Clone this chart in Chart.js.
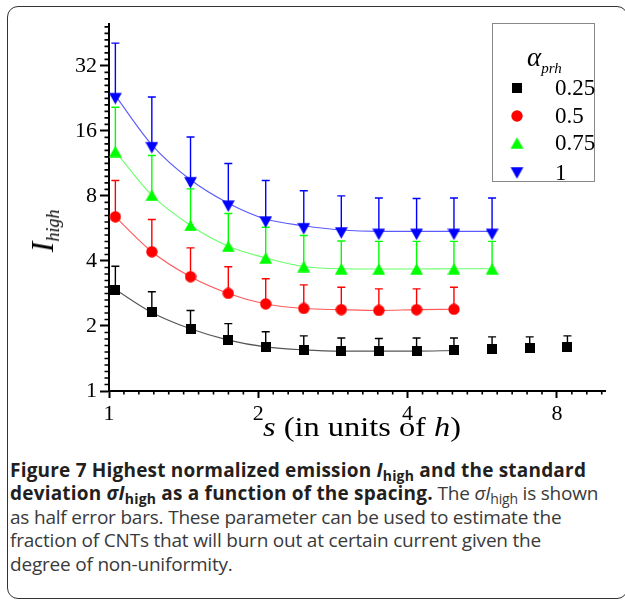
<!DOCTYPE html>
<html>
<head>
<meta charset="utf-8">
<script src="https://cdn.jsdelivr.net/npm/chart.js@4.4.0/dist/chart.umd.min.js"></script>
<style>
  body { margin: 0; width: 625px; height: 602px; overflow: hidden; background: #fff; position: relative; }
  #frame { position: absolute; left: 7px; top: 6px; width: 621px; height: 593px; border: 1.5px solid #333; border-radius: 11px; box-sizing: border-box; }
  #wrap { position: absolute; left: 0; top: 0; width: 625px; height: 440px; }
  .serif { font-family: "Liberation Serif", "DejaVu Serif", serif; color: #000; }
  #ytitle { position: absolute; left: 44px; top: 231px; transform: translate(-50%, -50%) rotate(-90deg); white-space: nowrap; font-style: italic; font-size: 32px; line-height: 1; }
  #ytitle sub { font-size: 18px; vertical-align: -6px; }
  #xtitle { position: absolute; left: 362px; top: 414px; transform: translateX(-50%) scaleX(1.2); white-space: nowrap; font-size: 27px; line-height: 1; }
  #legend { position: absolute; left: 492px; top: 23px; width: 103px; height: 159px; border: 1px solid #888; box-sizing: border-box; }
  #legend .ttl { position: absolute; left: 34px; top: 20px; font-style: italic; font-size: 27px; line-height: 1; white-space: nowrap; }
  #legend .ttl sub { font-size: 15px; vertical-align: -7px; }
  #legend .row { position: absolute; left: 0; width: 100px; height: 28px; }
  #legend .row img { position: absolute; left: 24px; top: 50%; transform: translate(-50%, -50%); }
  #legend .row span { position: absolute; left: 62px; top: 50%; transform: translateY(-52%); font-size: 23px; line-height: 1; }
  #caption { position: absolute; left: 10px; top: 459px; width: 592px; font-family: "Open Sans", "Noto Sans", sans-serif; font-size: 19px; line-height: 23.4px; color: #3a3a3a; letter-spacing: -0.2px; }
  #caption b { color: #231f20; letter-spacing: 0.2px; }
  #caption sub { font-size: 14px; vertical-align: -4px; line-height: 0; }
</style>
</head>
<body>
<div id="frame"></div>
<div id="wrap"><canvas id="chart"></canvas></div>
<div id="ytitle" class="serif">I<sub>high</sub></div>
<div id="xtitle" class="serif"><i>s</i> (in units of <i>h</i>)</div>
<div id="legend" class="serif">
  <div class="ttl">&alpha;<sub>prh</sub></div>
</div>
<div id="caption"><b>Figure 7 Highest normalized emission <i>I</i><sub>high</sub> and the standard deviation <i>&sigma;I</i><sub>high</sub> as a function of the spacing.</b> The <i>&sigma;I</i><sub>high</sub> is shown as half error bars. These parameter can be used to estimate the fraction of CNTs that will burn out at certain current given the degree of non-uniformity.</div>

<script>
// spacing s (in units of h)
var spacing = [1.03, 1.22, 1.46, 1.74, 2.07, 2.47, 2.94, 3.5, 4.17, 4.96, 5.92, 7.05, 8.4];

// I_high for each alpha_prh
var iHigh025 = [2.95, 2.31, 1.94, 1.72, 1.6, 1.55, 1.53, 1.53, 1.53, 1.54, 1.56, 1.58, 1.59];
var iHigh05 = [6.4, 4.41, 3.38, 2.83, 2.53, 2.41, 2.38, 2.36, 2.38, 2.39];
var iHigh075 = [12.84, 8.06, 5.84, 4.68, 4.13, 3.77, 3.68, 3.67, 3.67, 3.68, 3.68];
var iHigh1 = [23.3, 13.8, 9.5, 7.4, 6.25, 5.82, 5.56, 5.48, 5.48, 5.48, 5.48];

// standard deviation (half error bars, upward)
var sd025 = [0.83, 0.57, 0.42, 0.33, 0.28, 0.25, 0.23, 0.22, 0.23, 0.22, 0.22, 0.2, 0.21];
var sd05 = [3.03, 1.81, 1.22, 0.93, 0.78, 0.69, 0.64, 0.61, 0.59, 0.63];
var sd075 = [7.76, 4.24, 2.78, 1.95, 1.6, 1.48, 1.27, 1.26, 1.26, 1.25, 1.25];
var sd1 = [17.5, 9.16, 5.5, 3.9, 3.18, 2.63, 2.44, 2.35, 2.3, 2.35, 2.35];

// how many points the fitted curve runs through
var fitCount = [10, 10, 11, 11];

var alphaLabels = ['0.25', '0.5', '0.75', '1'];
var xTicks = [1, 2, 4, 8];
var yTicks = [1, 2, 4, 8, 16, 32];

var colors = ['#000000', '#ff0000', '#00ff00', '#0000ff'];
var fitColors = ['#555555', '#ff5a5a', '#6cff6c', '#5a5aff'];
var shapes = ['square', 'circle', 'up', 'down'];

function makeMarker(shape, color, forLegend) {
  var c = document.createElement('canvas');
  var g;
  if (shape == 'square') {
    c.width = 10; c.height = 10;
    g = c.getContext('2d'); g.fillStyle = color;
    g.fillRect(0, 0, 10, 10);
  } else if (shape == 'circle') {
    c.width = 12; c.height = 12;
    g = c.getContext('2d'); g.fillStyle = color;
    g.beginPath(); g.arc(6, 6, 5.7, 0, 2 * Math.PI); g.fill();
  } else if (shape == 'up') {
    c.width = 13; c.height = 12;
    g = c.getContext('2d'); g.fillStyle = color;
    g.beginPath(); g.moveTo(6.5, 0.2); g.lineTo(12.9, 11.7); g.lineTo(0.1, 11.7); g.closePath(); g.fill();
  } else {
    // down triangle: the data point sits near its flat top edge
    var top = forLegend ? 0 : 6;
    c.width = 13; c.height = forLegend ? 12 : 18;
    g = c.getContext('2d'); g.fillStyle = color;
    g.beginPath(); g.moveTo(0.1, top + 0.3); g.lineTo(12.9, top + 0.3); g.lineTo(6.5, top + 11.8); g.closePath(); g.fill();
  }
  return c;
}

function pts(vals) {
  return vals.map(function (v, i) { return { x: spacing[i], y: v }; });
}

var series = [iHigh025, iHigh05, iHigh075, iHigh1];
var sds = [sd025, sd05, sd075, sd1];

var datasets = [];
for (var k = 0; k < 4; k++) {
  datasets.push({
    label: alphaLabels[k],
    data: pts(series[k]),
    showLine: false,
    pointStyle: makeMarker(shapes[k], colors[k], false),
    pointRadius: 6,
    order: 0
  });
}
for (var k = 0; k < 4; k++) {
  datasets.push({
    label: 'fit ' + alphaLabels[k],
    data: pts(series[k].slice(0, fitCount[k])),
    showLine: true,
    borderColor: fitColors[k],
    borderWidth: 1.1,
    pointRadius: 0,
    cubicInterpolationMode: 'monotone',
    order: 1
  });
}

// half error bars (up only) with caps
var errorBars = {
  id: 'errorBars',
  beforeDatasetsDraw: function (chart) {
    var ctx = chart.ctx, xs = chart.scales.x, ys = chart.scales.y;
    ctx.save();
    ctx.lineWidth = 1.4;
    for (var k = 0; k < 4; k++) {
      ctx.strokeStyle = colors[k];
      for (var i = 0; i < series[k].length; i++) {
        var px = xs.getPixelForValue(spacing[i]);
        var y0 = ys.getPixelForValue(series[k][i]);
        var y1 = ys.getPixelForValue(series[k][i] + sds[k][i]);
        ctx.beginPath();
        ctx.moveTo(px, y0); ctx.lineTo(px, y1);
        ctx.moveTo(px - 4, y1); ctx.lineTo(px + 4, y1);
        ctx.stroke();
      }
    }
    ctx.restore();
  }
};

// minor ticks, 9 per doubling
var minorTicks = {
  id: 'minorTicks',
  afterDraw: function (chart) {
    var ctx = chart.ctx, xs = chart.scales.x, ys = chart.scales.y, a = chart.chartArea;
    ctx.save();
    ctx.strokeStyle = '#000';
    ctx.lineWidth = 1.6;
    ctx.beginPath();
    for (var o = 0; o < 6; o++) {
      for (var j = 1; j < 10; j++) {
        var v = Math.pow(2, o + j / 10);
        if (v < xs.max) {
          var px = xs.getPixelForValue(v);
          ctx.moveTo(px, a.bottom); ctx.lineTo(px, a.bottom + 3.5);
        }
        if (v < ys.max) {
          var py = ys.getPixelForValue(v);
          ctx.moveTo(a.left, py); ctx.lineTo(a.left - 4.5, py);
        }
      }
    }
    ctx.stroke();
    ctx.restore();
  }
};

var tickFont = { family: '"Liberation Serif", "DejaVu Serif", serif', size: 22 };

new Chart(document.getElementById('chart'), {
  type: 'scatter',
  data: { datasets: datasets },
  options: {
    responsive: true,
    maintainAspectRatio: false,
    animation: false,
    layout: { padding: { top: 24, right: 20, left: 0, bottom: 0 } },
    plugins: { legend: { display: false }, tooltip: { enabled: false } },
    scales: {
      x: {
        type: 'logarithmic',
        min: 1, max: 10,
        border: { display: true, color: '#000', width: 2 },
        grid: { drawOnChartArea: false, drawTicks: true, tickLength: 7, tickWidth: 2, tickColor: '#000' },
        ticks: { font: tickFont, color: '#000', padding: 3, maxRotation: 0, autoSkip: false,
          callback: function (v) { return String(v); } },
        afterBuildTicks: function (s) { s.ticks = xTicks.map(function (v) { return { value: v }; }); },
        afterFit: function (s) { s.height = 49; }
      },
      y: {
        type: 'logarithmic',
        min: 1, max: 50,
        border: { display: true, color: '#000', width: 2 },
        grid: { drawOnChartArea: false, drawTicks: true, tickLength: 9, tickWidth: 2, tickColor: '#000' },
        ticks: { font: tickFont, color: '#000', padding: 3, autoSkip: false,
          callback: function (v) { return String(v); } },
        afterBuildTicks: function (s) { s.ticks = yTicks.map(function (v) { return { value: v }; }); },
        afterFit: function (s) { s.width = 109; }
      }
    }
  },
  plugins: [errorBars, minorTicks]
});

// legend
var legend = document.getElementById('legend');
var rowCenters = [64, 92, 119, 149];
for (var k = 0; k < 4; k++) {
  var row = document.createElement('div');
  row.className = 'row';
  row.style.top = (rowCenters[k] - 14) + 'px';
  var img = document.createElement('img');
  img.src = makeMarker(shapes[k], colors[k], true).toDataURL();
  var lab = document.createElement('span');
  lab.textContent = alphaLabels[k];
  row.appendChild(img);
  row.appendChild(lab);
  legend.appendChild(row);
}
</script>
</body>
</html>
